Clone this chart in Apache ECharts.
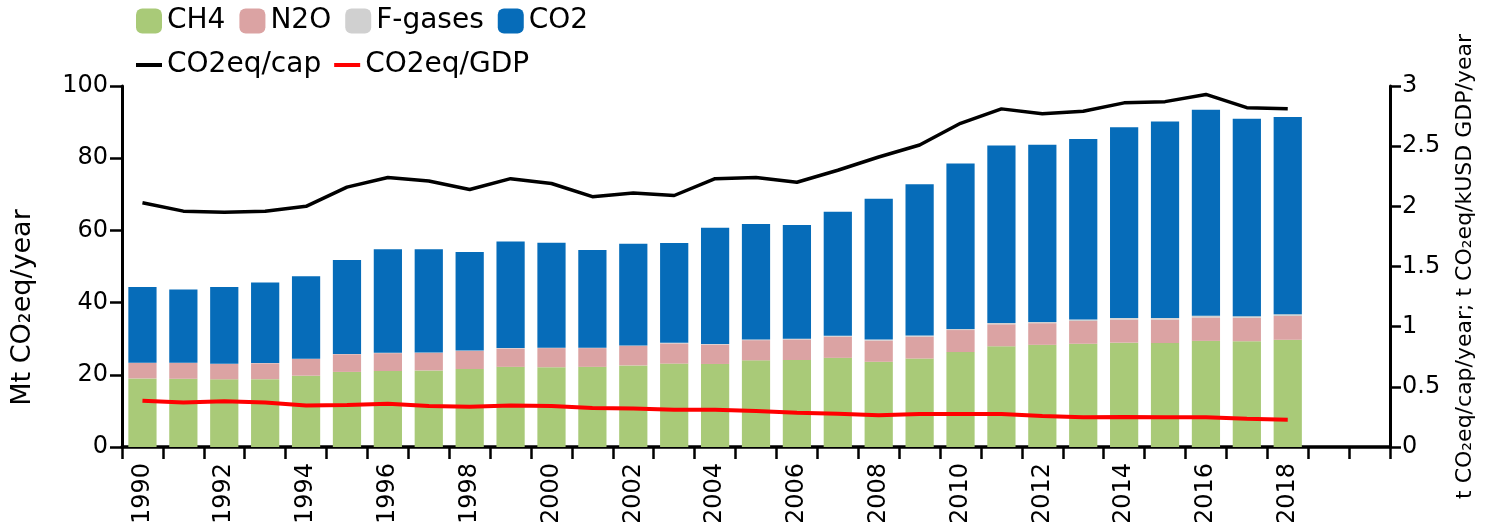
<!DOCTYPE html>
<html>
<head>
<meta charset="utf-8">
<script src="https://cdn.jsdelivr.net/npm/echarts@6/dist/echarts.min.js"></script>
<style>
html,body{margin:0;padding:0;background:#fff;}
#chart{width:1485px;height:522px;}
</style>
</head>
<body>
<div id="chart"></div>
<script>
const categories = ['1990','1991','1992','1993','1994','1995','1996','1997','1998','1999','2000','2001','2002','2003','2004','2005','2006','2007','2008','2009','2010','2011','2012','2013','2014','2015','2016','2017','2018','2019','2020'];
const ch4 = [19.0,18.9,18.75,18.8,19.75,20.8,21.05,21.2,21.6,22.2,22.1,22.2,22.6,23.1,23.0,24.0,24.1,24.7,23.6,24.5,26.3,27.9,28.3,28.6,28.9,28.8,29.4,29.3,29.7];
const n2o = [4.3,4.4,4.25,4.4,4.65,4.9,4.95,4.9,5.0,5.1,5.3,5.2,5.4,5.6,5.4,5.6,5.7,5.9,5.9,6.1,6.1,6.1,6.0,6.3,6.4,6.5,6.5,6.5,6.6];
const fgases = [0.05,0.05,0.05,0.05,0.05,0.05,0.1,0.1,0.1,0.1,0.1,0.1,0.15,0.15,0.15,0.2,0.2,0.2,0.25,0.3,0.3,0.35,0.35,0.4,0.4,0.4,0.45,0.45,0.5];
const co2 = [21.0,20.3,21.3,22.3,22.85,26.05,28.7,28.6,27.3,29.5,29.1,27.1,28.15,27.65,32.15,32.0,31.5,34.4,39.05,41.9,45.8,49.15,49.05,50.0,52.9,54.5,57.05,54.65,54.6];
const perCap = [2.03,1.96,1.95,1.96,2.0,2.16,2.24,2.21,2.14,2.23,2.19,2.08,2.11,2.09,2.23,2.24,2.20,2.30,2.41,2.51,2.69,2.81,2.77,2.79,2.86,2.87,2.93,2.82,2.81];
const perGdp = [0.385,0.37,0.38,0.37,0.345,0.35,0.36,0.34,0.335,0.345,0.34,0.325,0.32,0.31,0.31,0.30,0.285,0.277,0.264,0.275,0.275,0.275,0.258,0.247,0.25,0.247,0.247,0.235,0.227];
const leftTicks = {min:0, max:100, interval:20};
const rightTicks = {min:0, max:3, interval:0.5};

const FONT = 'DejaVu Sans';
const chart = echarts.init(document.getElementById('chart'), null, {renderer:'canvas'});
const barBase = {type:'bar', stack:'total', barCategoryGap:'31%', yAxisIndex:0};
chart.setOption({
  animation:false,
  textStyle:{fontFamily:FONT, color:'#000'},
  legend:[
    {data:['CH4','N2O','F-gases','CO2'], left:136, top:7, padding:0, itemWidth:26, itemHeight:25, itemGap:14,
     textStyle:{fontSize:28, fontFamily:FONT, color:'#000'}},
    {data:['CO2eq/cap','CO2eq/GDP'], left:136, top:51, padding:0, itemWidth:26, itemHeight:4, itemGap:13, icon:'rect',
     textStyle:{fontSize:28, fontFamily:FONT, color:'#000'}}
  ],
  grid:{left:122, right:95, top:86, bottom:75, containLabel:false, outerBoundsMode:'none'},
  xAxis:{type:'category', data:categories, boundaryGap:true,
    axisLine:{lineStyle:{color:'#000', width:3.5}},
    axisTick:{show:true, interval:0, length:12, lineStyle:{color:'#000', width:2.5}},
    axisLabel:{rotate:90, fontSize:24, color:'#000', margin:16, fontFamily:FONT,
      interval:function(i){return i%2===0 && i<=28;}},
    splitLine:{show:false}},
  yAxis:[
    {type:'value', min:leftTicks.min, max:leftTicks.max, interval:leftTicks.interval, position:'left',
     name:'Mt CO₂eq/year', nameLocation:'middle', nameRotate:90, nameGap:86,
     nameTextStyle:{fontSize:27, color:'#000', fontFamily:FONT, padding:[0,82,0,0]},
     axisLine:{show:true, lineStyle:{color:'#000', width:3}},
     axisTick:{show:true, length:12, lineStyle:{color:'#000', width:2.5}},
     axisLabel:{fontSize:24, color:'#000', margin:14, fontFamily:FONT},
     splitLine:{show:false}},
    {type:'value', min:rightTicks.min, max:rightTicks.max, interval:rightTicks.interval, position:'right',
     name:'t CO₂eq/cap/year; t CO₂eq/kUSD GDP/year', nameLocation:'middle', nameRotate:90, nameGap:64,
     nameTextStyle:{fontSize:22, color:'#000', fontFamily:FONT},
     axisLine:{show:true, lineStyle:{color:'#000', width:3}},
     axisTick:{show:true, length:11, lineStyle:{color:'#000', width:2.5}},
     axisLabel:{fontSize:24, color:'#000', margin:12, fontFamily:FONT},
     splitLine:{show:false}}
  ],
  series:[
    Object.assign({name:'CH4', data:ch4, itemStyle:{color:'#a9ca78'}}, barBase),
    Object.assign({name:'N2O', data:n2o, itemStyle:{color:'#dba3a3'}}, barBase),
    Object.assign({name:'F-gases', data:fgases, itemStyle:{color:'#d0d0d0'}}, barBase),
    Object.assign({name:'CO2', data:co2, itemStyle:{color:'#066cb9'}}, barBase),
    {name:'CO2eq/cap', type:'line', yAxisIndex:1, data:perCap, symbol:'none', z:5,
     lineStyle:{color:'#000', width:3.5}, itemStyle:{color:'#000'}},
    {name:'CO2eq/GDP', type:'line', yAxisIndex:1, data:perGdp, symbol:'none', z:5,
     lineStyle:{color:'#ff0000', width:4}, itemStyle:{color:'#ff0000'}}
  ]
});
</script>
</body>
</html>
